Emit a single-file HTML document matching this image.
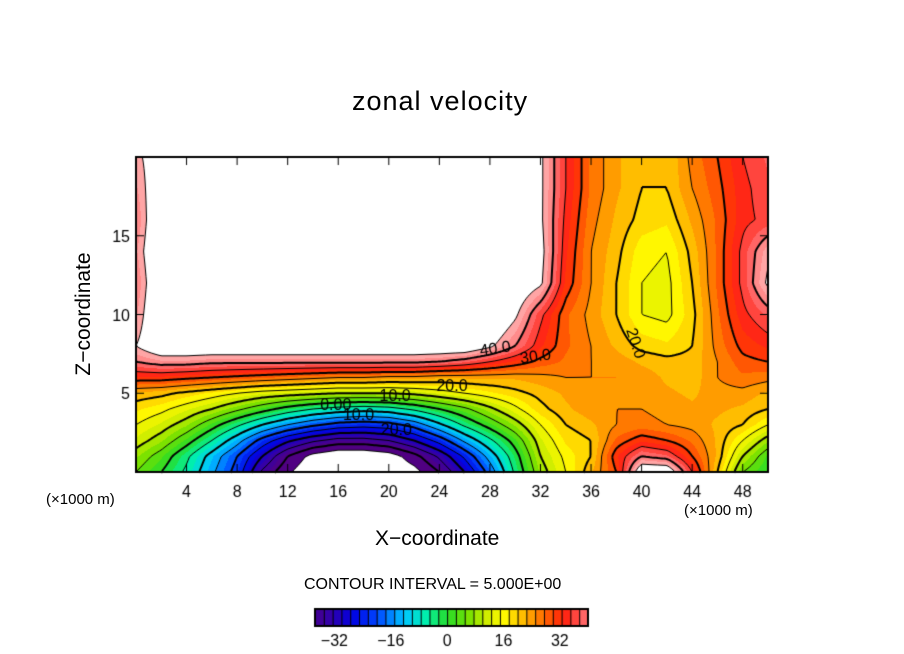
<!DOCTYPE html>
<html><head><meta charset="utf-8"><style>
body{margin:0;background:#fff;width:904px;height:654px;overflow:hidden;font-family:"Liberation Sans",sans-serif}
.t{position:absolute;white-space:nowrap;color:#000}
</style></head><body>
<div style="position:relative;width:904px;height:654px">
<div class="t" style="left:352px;top:86px;font-size:27px;letter-spacing:1px">zonal velocity</div>
<canvas id="cv" width="904" height="654" style="position:absolute;left:0;top:0"></canvas>
<div class="t" style="left:375px;top:527px;font-size:21px">X−coordinate</div>
<div class="t" style="left:-11px;top:302px;font-size:21px;transform:rotate(-90deg);transform-origin:center;width:190px;text-align:center">Z−coordinate</div>
<div class="t" style="left:46px;top:491px;font-size:15px">(×1000 m)</div>
<div class="t" style="left:684px;top:502px;font-size:15px">(×1000 m)</div>
<div class="t" style="left:304px;top:576px;font-size:16px">CONTOUR INTERVAL = 5.000E+00</div>
</div>
<script>
const xCoords=[0,2,4,6,8,10,12,14,16,18,20,22,24,26,28,30,32,34,36,38,40,42,44,46,48,50];
const zCoords=[0,1,2,3,4,5,6,7,8,10,12,14,16,18,20];
const field=[
[5,0,-6,-14,-22,-36,-44,-50,-52,-52,-50,-47,-40,-30,-18,-4,8,15,22,30,50,50,35,20,5,0],
[8,3,-4,-12,-20,-30,-40,-47,-50,-50,-48,-42,-34,-24,-13,-2,10,16,20,32,40,38,30,22,10,2],
[12,8,2,-5,-13,-22,-29,-34,-37,-37,-35,-30,-23,-14,-6,2,12,18,20,28,32,30,27,22,15,8],
[15,12,8,2,-4,-10,-15,-19,-22,-23,-22,-18,-11,-4,2,8,15,20,22,25,26,25,24,22,20,15],
[18,16,13,10,6,2,-2,-5,-7,-8,-7,-4,0,4,9,14,19,22,24,25,25,24,23,23,22,20],
[22,21,19,17,15,13,12,11,10,10,10,11,13,15,17,19,21,23,24,25,24,23,22,24,24,22],
[32,32,31,30,29,28,27,26,25,25,24,24,23,23,23,23,24,25,25,25,24,22,21,25,27,26],
[40,42,42,41,41,41,41,41,41,41,41,41,40,38,35,32,29,27,25,24,22,21,21,25,29,30],
[45,50,50,50,50,50,50,50,50,50,50,50,50,50,46,40,33,28,25,22,19,18,20,26,31,33],
[42,52,52,52,52,52,52,52,52,52,52,52,52,52,52,46,36,28,24,20,15,14,19,27,34,38],
[40,52,52,52,52,52,52,52,52,52,52,52,52,52,52,50,46,32,25,20,15,14,20,28,36,46],
[42,52,52,52,52,52,52,52,52,52,52,52,52,52,52,52,47,33,25,21,16,15,21,28,36,44],
[40,52,52,52,52,52,52,52,52,52,52,52,52,52,52,52,46,34,26,22,19,18,23,28,34,36],
[42,50,52,52,52,52,52,52,52,52,52,52,52,52,52,52,46,35,27,23,20,20,25,29,34,37],
[44,48,52,52,52,52,52,52,52,52,52,52,52,52,52,52,46,35,27,23,20,20,26,30,35,38]];
const xTicks=[4,8,12,16,20,24,28,32,36,40,44,48];
const zTicks=[5,10,15];
const cbTicks=[-32,-16,0,16,32];
const contourLabels=[["40.0",28.4,7.9,-8],["30.0",31.6,7.4,-8],["20.0",25,5.5,0],["10.0",20.5,4.9,0],["0.00",15.8,4.3,0],["10.0",17.6,3.7,0],["20.0",20.6,2.7,0],["20.0",39.6,8.2,72]];
const X0=136,X1=768,Y0=472,Y1=157,XMAX=50,ZMAX=20;
const sx=v=>X0+(v/XMAX)*(X1-X0), sz=v=>Y0-(v/ZMAX)*(Y0-Y1);
const stops=[[-40,[80,0,130]],[-33,[50,0,170]],[-27,[0,0,225]],[-20,[0,70,255]],[-12,[0,200,255]],[-6,[0,240,170]],[0,[40,220,40]],[6,[120,225,0]],[12,[220,240,0]],[16,[255,250,0]],[22,[255,180,0]],[27,[255,110,0]],[33,[255,30,10]],[38,[255,90,90]],[43,[255,165,165]]];
function col(v){if(v>45||v<-45)return[255,255,255];v=Math.floor(v/2.5)*2.5+1.25;
 if(v<=stops[0][0])return stops[0][1];
 for(let i=1;i<stops.length;i++){if(v<=stops[i][0]){const a=stops[i-1],b=stops[i],t=(v-a[0])/(b[0]-a[0]);return a[1].map((c,k)=>Math.round(c+(b[1][k]-c)*t));}}
 return stops[stops.length-1][1];}
function idx(arr,v){let i=0;while(i<arr.length-2&&v>arr[i+1])i++;return[i,(v-arr[i])/(arr[i+1]-arr[i])];}
function val(x,z){const[i,tx]=idx(xCoords,x),[j,tz]=idx(zCoords,z);
 const a=field[j][i],b=field[j][i+1],c=field[j+1][i],d=field[j+1][i+1];
 return (a*(1-tx)+b*tx)*(1-tz)+(c*(1-tx)+d*tx)*tz;}
const cv=document.getElementById('cv'),g=cv.getContext('2d');
const W=X1-X0,H=Y0-Y1,img=g.createImageData(W,H);
const S=2,nx=Math.ceil(W/S)+1,nz=Math.ceil(H/S)+1,grid=[];
for(let j=0;j<nz;j++){grid.push([]);for(let i=0;i<nx;i++){const px=Math.min(i*S,W),py=Math.min(j*S,H);grid[j].push(val(px/W*XMAX,(H-py)/H*ZMAX));}}
for(let py=0;py<H;py++)for(let px=0;px<W;px++){const c=col(val((px+.5)/W*XMAX,(H-py-.5)/H*ZMAX));const k=(py*W+px)*4;img.data[k]=c[0];img.data[k+1]=c[1];img.data[k+2]=c[2];img.data[k+3]=255;}
g.putImageData(img,X0,Y1);
for(let lv=-45;lv<=45;lv+=5){
 g.strokeStyle='#000';g.lineWidth=(lv%10===0)?2:1;g.setLineDash(lv<0?[5,3]:[]);g.beginPath();
 for(let j=0;j<nz-1;j++)for(let i=0;i<nx-1;i++){
  const p=[[i,j],[i+1,j],[i+1,j+1],[i,j+1]],vs=p.map(q=>grid[q[1]][q[0]]),pts=[];
  for(let e=0;e<4;e++){const a=vs[e],b=vs[(e+1)%4];if((a<lv)!==(b<lv)){const t=(lv-a)/(b-a),A=p[e],B=p[(e+1)%4];pts.push([X0+(A[0]+(B[0]-A[0])*t)*S,Y1+(A[1]+(B[1]-A[1])*t)*S]);}}
  if(pts.length>=2){g.moveTo(pts[0][0],pts[0][1]);g.lineTo(pts[1][0],pts[1][1]);}
  if(pts.length===4){g.moveTo(pts[2][0],pts[2][1]);g.lineTo(pts[3][0],pts[3][1]);}
 }
 g.stroke();}
g.setLineDash([]);
g.lineWidth=2;g.strokeStyle='#000';g.strokeRect(X0,Y1,W,H);
g.lineWidth=1;g.fillStyle='#000';g.font='16px "Liberation Sans",sans-serif';g.textAlign='center';
xTicks.forEach(t=>{const x=sx(t);g.beginPath();g.moveTo(x,Y0);g.lineTo(x,Y0-8);g.moveTo(x,Y1);g.lineTo(x,Y1+8);g.stroke();g.fillText(String(t),x,Y0+25);});
g.textAlign='right';
zTicks.forEach(t=>{const y=sz(t);g.beginPath();g.moveTo(X0,y);g.lineTo(X0+8,y);g.moveTo(X1,y);g.lineTo(X1-8,y);g.stroke();g.fillText(String(t),X0-6,y+6);});
g.font='16px "Liberation Sans",sans-serif';g.textAlign='center';
contourLabels.forEach(l=>{g.save();g.translate(sx(l[1]),sz(l[2]));g.rotate(l[3]*Math.PI/180);g.fillStyle='#000';g.fillText(l[0],0,6);g.restore();});
const CB0=315,CB1=588,CBy=609,CBh=17,CBmin=-37.5,CBmax=40;
for(let x=CB0;x<CB1;x++){const v=CBmin+(x-CB0)/(CB1-CB0)*(CBmax-CBmin);const c=col(Math.min(v,44));g.fillStyle=`rgb(${c})`;g.fillRect(x,CBy,1,CBh);}
g.strokeStyle='#000';g.lineWidth=1;
for(let v=-35;v<40;v+=2.5){const x=CB0+(v-CBmin)/(CBmax-CBmin)*(CB1-CB0);g.beginPath();g.moveTo(x+.5,CBy);g.lineTo(x+.5,CBy+CBh);g.stroke();}
g.lineWidth=2;g.strokeRect(CB0,CBy,CB1-CB0,CBh);
g.fillStyle='#000';g.font='16px "Liberation Sans",sans-serif';g.textAlign='center';
cbTicks.forEach(t=>{const x=CB0+(t-CBmin)/(CBmax-CBmin)*(CB1-CB0);g.fillText(String(t).replace('-','−'),x,CBy+37);});


</script>
</body></html>
